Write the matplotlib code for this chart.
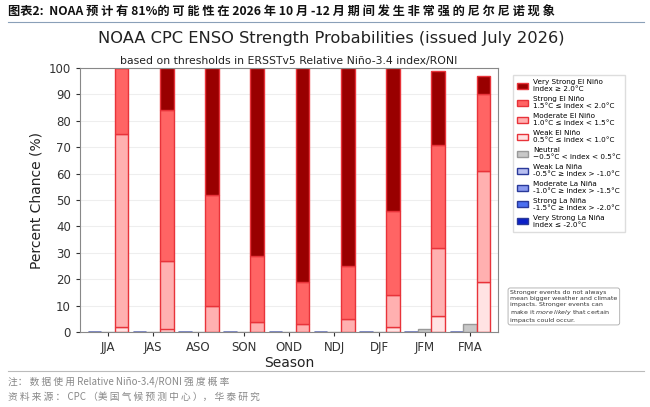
import numpy as np
import matplotlib
matplotlib.use("Agg")
import matplotlib.pyplot as plt
from matplotlib.patches import Patch

plt.rcParams['font.family'] = ['DejaVu Sans', 'Noto Sans CJK SC']
cjk = ['Noto Sans CJK SC', 'DejaVu Sans']

# data
seasons = ['JJA', 'JAS', 'ASO', 'SON', 'OND', 'NDJ', 'DJF', 'JFM', 'FMA']
weak_nino = [2, 1, 0, 0, 0, 0, 2, 6, 19]
moderate_nino = [73, 26, 10, 4, 3, 5, 12, 26, 42]
strong_nino = [25, 57, 42, 25, 16, 20, 32, 39, 29]
very_strong_nino = [0, 16, 48, 71, 81, 75, 54, 28, 7]
neutral = [0, 0, 0, 0, 0, 0, 0, 1, 3]
weak_nina = [0, 0, 0, 0, 0, 0, 0, 0, 0]
moderate_nina = [0, 0, 0, 0, 0, 0, 0, 0, 0]
strong_nina = [0, 0, 0, 0, 0, 0, 0, 0, 0]
very_strong_nina = [0, 0, 0, 0, 0, 0, 0, 0, 0]

nino_cols = ['#ffe3e3', '#ffb0b0', '#ff6464', '#990000']
nina_cols = ['#b8bff0', '#8a9af0', '#4a6ef0', '#0a1fc8']
neutral_col = '#c8c8c8'

fig = plt.figure(figsize=(6.5, 4.07), dpi=100)
ax = fig.add_axes([0.123, 0.184, 0.643, 0.649])

x = np.arange(len(seasons))
w = 0.3

# La Nina stack (left)
bottom = np.zeros(len(seasons))
for vals, c in zip([weak_nina, moderate_nina, strong_nina, very_strong_nina], nina_cols):
    ax.bar(x - w, vals, w, bottom=bottom, color=c, edgecolor='#2a3a9a', linewidth=1)
    bottom += np.array(vals)

# neutral (middle)
ax.bar(x, neutral, w, color=neutral_col, edgecolor='#999999', linewidth=1)

# El Nino stack (right)
bottom = np.zeros(len(seasons))
for vals, c in zip([weak_nino, moderate_nino, strong_nino, very_strong_nino], nino_cols):
    ax.bar(x + w, vals, w, bottom=bottom, color=c, edgecolor='#e8333a', linewidth=1)
    bottom += np.array(vals)

ax.set_xlim(-0.62, 8.62)
ax.set_ylim(0, 100)
ax.set_yticks(range(0, 101, 10))
ax.set_xticks(x)
ax.set_xticklabels(seasons)
ax.tick_params(labelsize=8.5, colors='#333333', length=3)
ax.grid(axis='y', color='#eeeeee', linewidth=0.8)
ax.set_axisbelow(True)
for s in ax.spines.values():
    s.set_color('#888888')
ax.set_ylabel('Percent Chance (%)', fontsize=10, color='#222222')
ax.set_xlabel('Season', fontsize=10, color='#222222', labelpad=1)
ax.set_title('based on thresholds in ERSSTv5 Relative Niño-3.4 index/RONI',
             fontsize=7.8, color='#222222', pad=3)

fig.text(0.509, 0.905, 'NOAA CPC ENSO Strength Probabilities (issued July 2026)',
         ha='center', va='center', fontsize=11.7, color='#222222')

labels = ['Very Strong El Niño\nindex ≥ 2.0°C',
          'Strong El Niño\n1.5°C ≤ index < 2.0°C',
          'Moderate El Niño\n1.0°C ≤ index < 1.5°C',
          'Weak El Niño\n0.5°C ≤ index < 1.0°C',
          'Neutral\n−0.5°C < index < 0.5°C',
          'Weak La Niña\n-0.5°C ≥ index > -1.0°C',
          'Moderate La Niña\n-1.0°C ≥ index > -1.5°C',
          'Strong La Niña\n-1.5°C ≥ index > -2.0°C',
          'Very Strong La Niña\nindex ≤ -2.0°C']
cols = nino_cols[::-1] + [neutral_col] + nina_cols
edges = ['#e8333a'] * 4 + ['#999999'] + ['#2a3a9a'] * 4
handles = [Patch(facecolor=c, edgecolor=e, label=l) for c, e, l in zip(cols, edges, labels)]
fig.legend(handles=handles, loc='upper left', bbox_to_anchor=(0.783, 0.825),
           fontsize=5.2, frameon=True, framealpha=1, edgecolor='#dddddd',
           handlelength=1.6, handleheight=0.9, handletextpad=0.6,
           labelspacing=0.55, borderpad=0.6, fancybox=False)

fig.text(0.785, 0.207,
         'Stronger events do not always\nmean bigger weather and climate\nimpacts. Stronger events can\nmake it $\\it{more\\ likely}$ that certain\nimpacts could occur.',
         fontsize=4.5, color='#333333', va='bottom', ha='left', linespacing=1.2,
         bbox=dict(boxstyle='round,pad=0.35', facecolor='white', edgecolor='#aaaaaa', linewidth=0.6))

# report header / footer
fig.text(0.012, 0.97, '图表2:  NOAA 预 计 有 81%的 可 能 性 在 2026 年 10 月 -12 月 期 间 发 生 非 常 强 的 尼 尔 尼 诺 现 象',
         fontsize=8.8, fontweight='bold', va='center', ha='left', color='#111111', family=cjk)
fig.add_artist(plt.Line2D([0.012, 0.99], [0.945, 0.945], color='#8aa0b8', linewidth=0.8))
fig.add_artist(plt.Line2D([0.012, 0.99], [0.088, 0.088], color='#bbbbbb', linewidth=0.8))
fig.text(0.012, 0.063, '注： 数 据 使 用 Relative Niño-3.4/RONI 强 度 概 率', fontsize=7,
         color='#888888', va='center', family=cjk)
fig.text(0.012, 0.025, '资 料 来 源 ： CPC （美 国 气 候 预 测 中 心 ）， 华 泰 研 究', fontsize=7,
         color='#888888', va='center', family=cjk)

fig.savefig('out.png', dpi=100)
